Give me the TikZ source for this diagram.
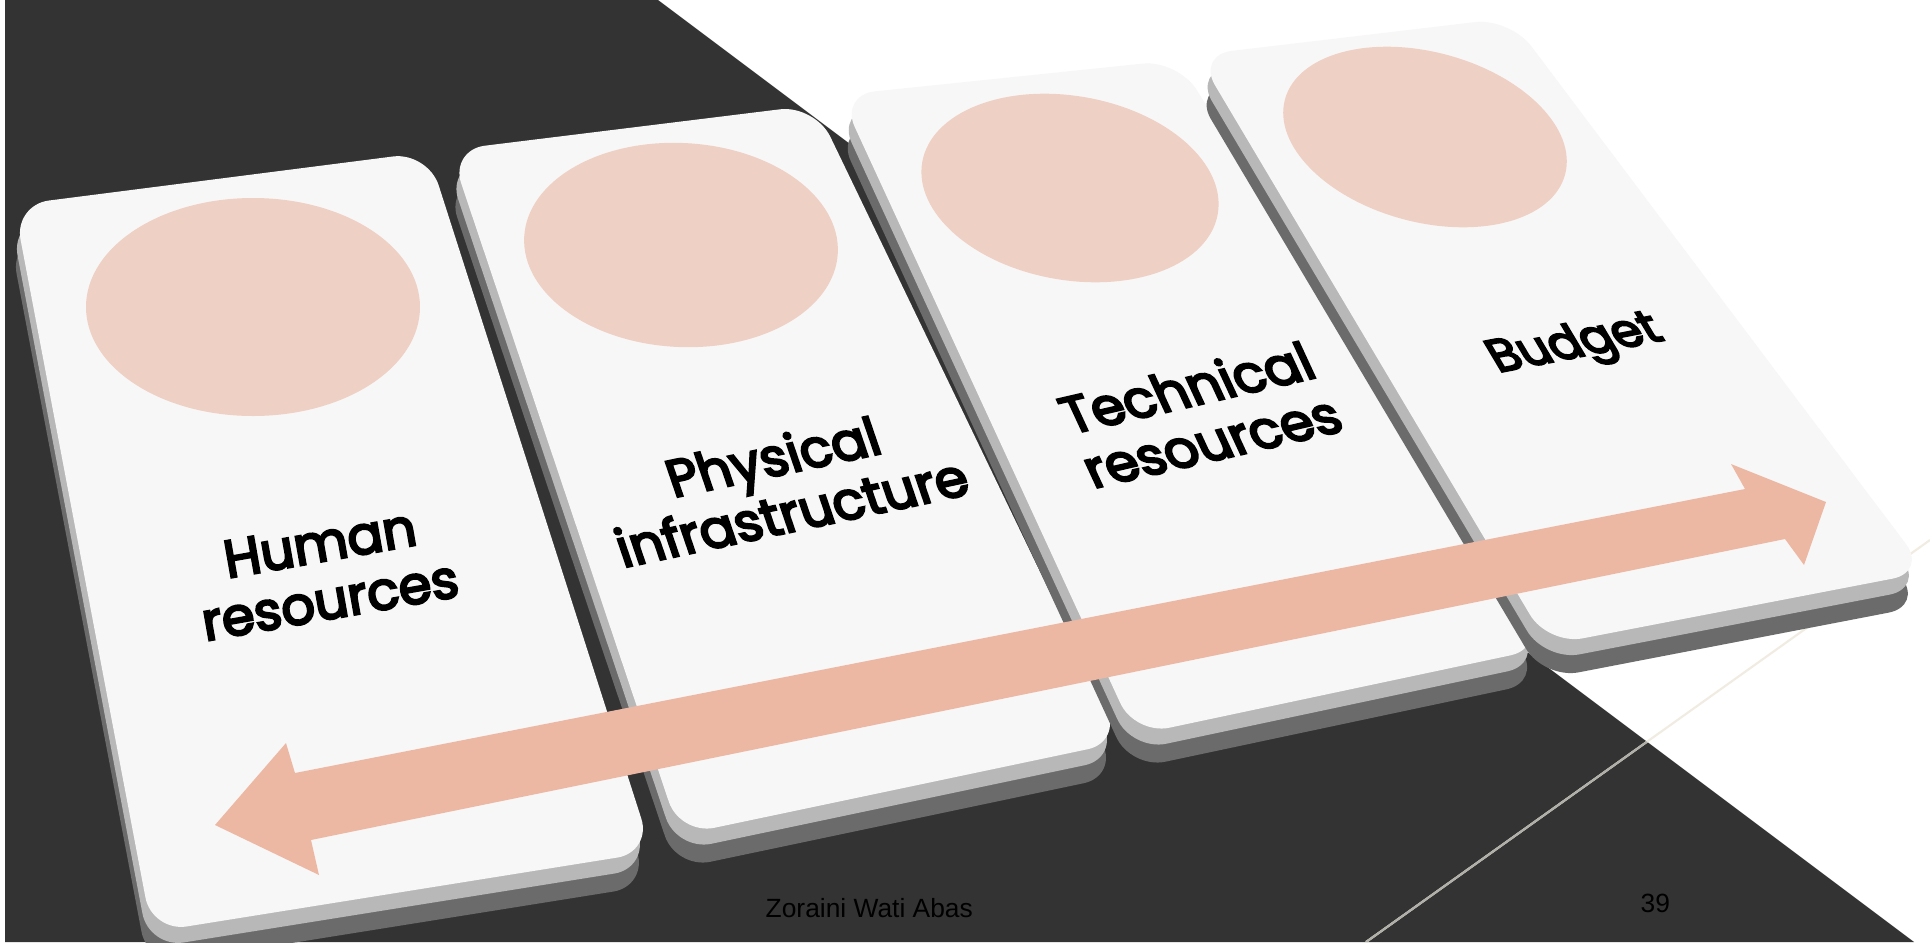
\documentclass[tikz,border=0pt]{standalone}
\usepackage{fontspec}
\newfontfamily\keyfont[FakeBold=4.5]{Poppins}
\newfontfamily\footfont{Liberation Sans}
\usetikzlibrary{calc}
\definecolor{tableDark}{RGB}{51,51,51}
\definecolor{keyFace}{RGB}{247,247,247}
\definecolor{keyBevel}{RGB}{184,184,184}
\definecolor{keySide}{RGB}{107,107,107}
\definecolor{spotPink}{RGB}{239,208,197}
\definecolor{arrowPink}{RGB}{237,184,163}
\definecolor{seamGray}{RGB}{176,176,168}
\definecolor{seamFaint}{RGB}{240,236,226}
\tikzset{
  key face/.style={fill=keyFace,rounded corners=10pt},
  key bevel/.style={fill=keyBevel,rounded corners=10pt,shift={(-3,16)}},
  key side/.style={fill=keySide,rounded corners=10pt,shift={(-4,34)}},
  key spot/.style={fill=spotPink},
  key label/.style={font=\keyfont\fontsize{15}{16.5}\selectfont,align=center,text=black,inner sep=0pt},
  footer/.style={font=\footfont\fontsize{7.5}{9}\selectfont,text=black,inner sep=0pt}
}
% key tops, corners nw -- ne -- se -- sw
\def\humanKey{(14,205) -- (428,152) -- (652,852) -- (152,932) -- cycle}
\def\physicalKey{(450,150) -- (815,105) -- (1122,742) -- (680,835) -- cycle}
\def\technicalKey{(840,95) -- (1178,60) -- (1545,648) -- (1135,735) -- cycle}
\def\budgetKey{(1197,55) -- (1510,18) -- (1927,572) -- (1548,645) -- cycle}

\begin{document}
\begin{tikzpicture}[x=0.01cm,y=-0.01cm]
  \clip (0,0) rectangle (1930,942);
  \fill[white] (0,0) rectangle (1930,942);
  % table
  \fill[tableDark] (5,0) -- (658,0) -- (1914,942) -- (5,942) -- cycle;
  \draw[seamFaint,line width=0.6pt] (1366,942) -- (1930,540);
  \begin{scope}
    \clip (5,0) -- (658,0) -- (1914,942) -- (5,942) -- cycle;
    \draw[seamGray,line width=0.6pt] (1366,942) -- (1930,540);
  \end{scope}

  % keys
  \fill[key side] \humanKey;
  \fill[key bevel] \humanKey;
  \fill[key face] \humanKey;
  \fill[key side] \physicalKey;
  \fill[key bevel] \physicalKey;
  \fill[key face] \physicalKey;
  \fill[key side] \technicalKey;
  \fill[key bevel] \technicalKey;
  \fill[key face] \technicalKey;
  \fill[key side] \budgetKey;
  \fill[key bevel] \budgetKey;
  \fill[key face] \budgetKey;

  % spots
  \fill[key spot] (253,307) ellipse [x radius=167,y radius=109];
  \fill[key spot,rotate around={-3:(681,245)}] (681,245) ellipse [x radius=157,y radius=102];
  \fill[key spot,rotate around={-10:(1070,188)}] (1070,188) ellipse [x radius=150,y radius=92];
  \fill[key spot,rotate around={-15:(1425,137)}] (1425,137) ellipse [x radius=145,y radius=85];

  % labels
  \node[key label,rotate=10] (human) at (325,572) {Human\\resources};
  \node[key label,rotate=12,xslant=-0.12] (physical) at (782,484) {Physical\\infrastructure};
  \node[key label,rotate=13,xslant=-0.21] (technical) at (1199,414) {Technical\\resources};
  \node[key label,rotate=11,xslant=-0.36,font=\keyfont\fontsize{13.5}{14}\selectfont] (budget) at (1576,346) {Budget};

  % double arrow
  \fill[arrowPink] (215,825) -- (286,743) -- (295,773) -- (1745,489) -- (1731,464)
    -- (1826,502) -- (1804,565) -- (1785,539) -- (311,840) -- (319,875) -- cycle;

  % footer
  \node[footer,anchor=base west] (author) at (765,917) {Zoraini Wati Abas};
  \node[footer,anchor=base west] (page) at (1640,912) {39};
\end{tikzpicture}
\end{document}
